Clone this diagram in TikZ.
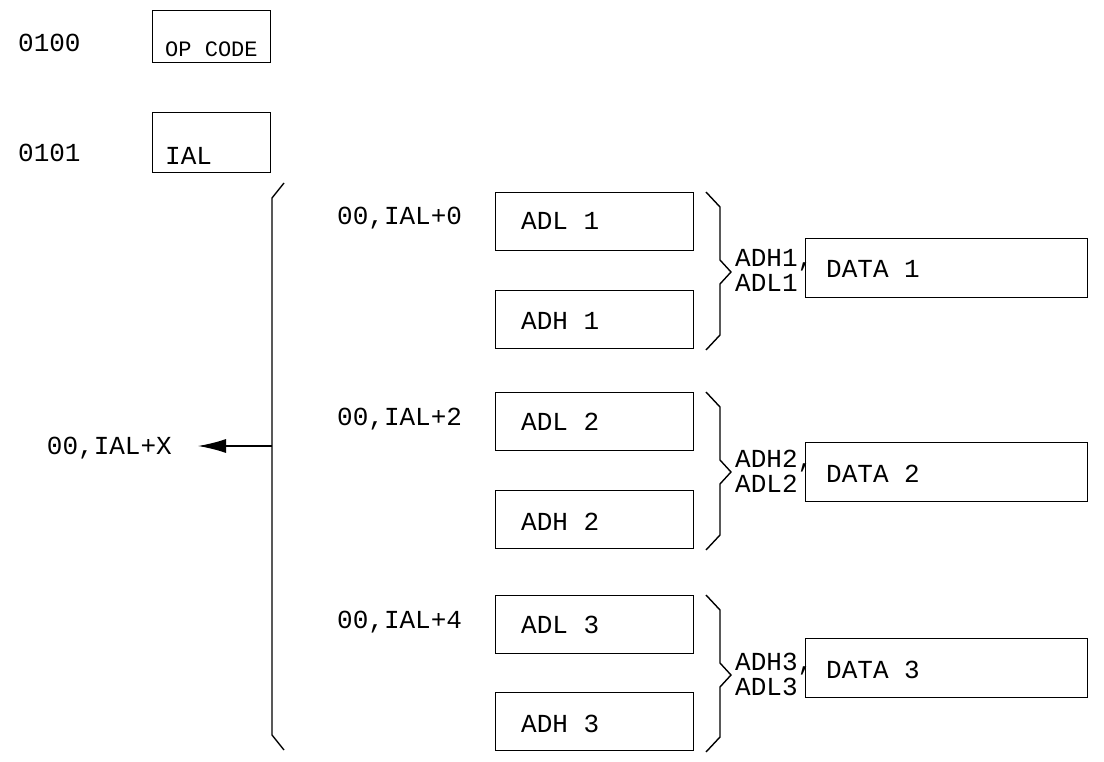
\documentclass[tikz,border=0pt]{standalone}
\usepackage{fontspec}
\setmonofont{Liberation Mono}
\usetikzlibrary{arrows.meta}
\begin{document}
\begin{tikzpicture}[x=1pt,y=-1pt,
  box/.style={draw,line width=1.4pt,minimum height=58pt,anchor=north west,inner sep=0pt},
  t/.style={font=\fontsize{26}{28}\ttfamily,anchor=base west,inner sep=0pt},
  ln/.style={line width=1.4pt}]
\useasboundingbox (0,0) rectangle (1104,762);
% top boxes
\node[box,minimum width=118pt,minimum height=52pt] (op) at (152,10) {};
\node[t,font=\fontsize{22}{24}\ttfamily] (opt) at (165,57) {OP CODE};
\node[t] (a100) at (18,52) {0100};
\node[box,minimum width=118pt,minimum height=60pt] (ial) at (152,112) {};
\node[t] (ialt) at (165,165) {IAL};
\node[t] (a101) at (18,162) {0101};
% big bracket
\coordinate (b1) at (284,183); \coordinate (b2) at (272,198);
\coordinate (b3) at (272,735); \coordinate (b4) at (284,750);
\coordinate (bm) at (272,446);
\coordinate (ae) at (198,446);
\draw[ln] (b1)--(b2)--(b3)--(b4);
\node[t,anchor=base east] (ialx) at (172,454) {00,IAL+X};
\draw[ln,-{Latex[length=28pt,width=14pt]}] (bm) -- (ae);
% rows
\foreach \i/\y/\yb/\yd in {1/192/290/238, 2/392/490/442, 3/595/692/638}{
  \node[box,minimum width=198pt] (adl\i) at (495,\y) {};
  \node[box,minimum width=198pt] (adh\i) at (495,\yb) {};
  \node[t] at (521,\y+38) {ADL \i};
  \node[t] at (521,\yb+40) {ADH \i};
  \node[t] at (337,\y+33) {00,IAL+\the\numexpr2*\i-2\relax};
  \node[box,minimum width=282pt,minimum height=59pt] (data\i) at (805,\yd) {};
  \node[t] at (826,\yd+40) {DATA \i};
  \coordinate (c1) at (706,\y); \coordinate (c2) at (720,\y+15);
  \coordinate (c3) at (720,\y+68); \coordinate (c4) at (731,\y+80);
  \coordinate (c5) at (720,\y+92); \coordinate (c6) at (720,\yb+45);
  \coordinate (c7) at (706,\yb+60);
  \draw[ln] (c1)--(c2)--(c3)--(c4)--(c5)--(c6)--(c7);
  \node[t] at (735,\y+75) {ADH\i,};
  \node[t] at (735,\y+100) {ADL\i};
}
\end{tikzpicture}
\end{document}
